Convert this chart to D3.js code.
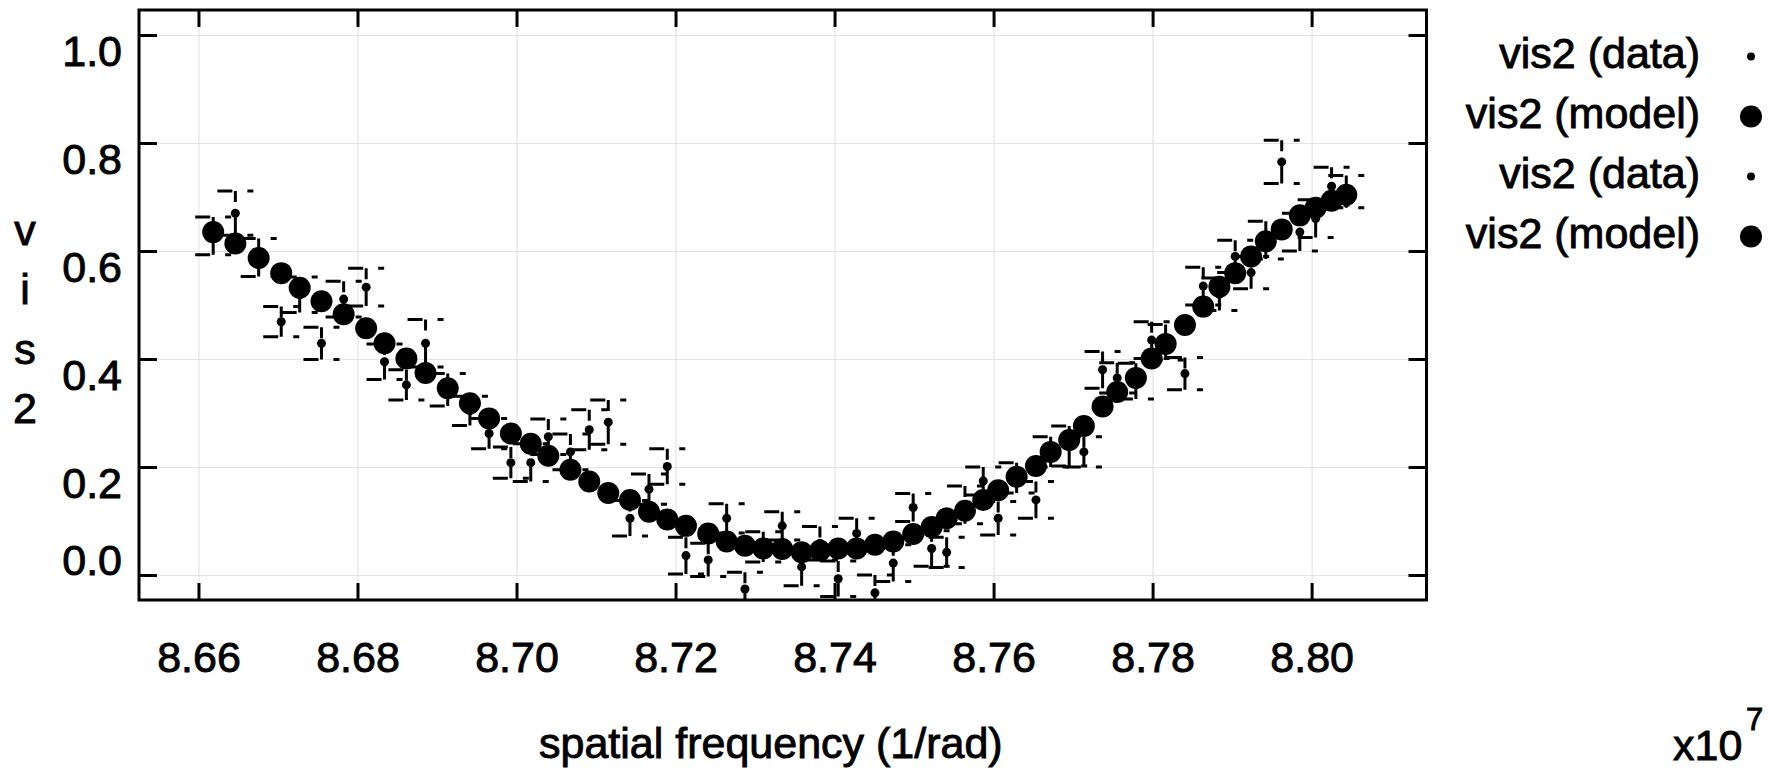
<!DOCTYPE html>
<html>
<head>
<meta charset="utf-8">
<script src="https://cdn.jsdelivr.net/npm/d3@7"></script>
<style>
  body { margin: 0; background: #fff; }
  text { font-family: "Liberation Sans", Arial, sans-serif; font-size: 43px; fill: #000;
         stroke: #000; stroke-width: 0.9px; }
</style>
</head>
<body>
<svg id="chart" width="1777" height="771"></svg>
<script>
// spatial frequency in units of 1e7 / rad
const freqA = [8.66185, 8.66757, 8.67273, 8.67826, 8.68340, 8.68856, 8.69414, 8.69929, 8.70400, 8.70915,
  8.71427, 8.71896, 8.72411, 8.72873, 8.73342, 8.73816, 8.74278, 8.74738, 8.75221, 8.75640,
  8.76058, 8.76533, 8.76951, 8.77371, 8.77790, 8.78164, 8.78637, 8.79039, 8.79424, 8.79852, 8.80251];
const vis2DataA = [0.628, 0.588, 0.519, 0.511, 0.395, 0.429, 0.304, 0.208, 0.256, 0.269,
  0.105, 0.201, 0.028, -0.026, 0.091, 0.059, 0.077, 0.022, 0.049, 0.130,
  0.105, 0.139, 0.239, 0.380, 0.359, 0.431, 0.535, 0.590, 0.620, 0.635, 0.720];
const vis2ErrA = [0.035, 0.035, 0.033, 0.033, 0.033, 0.044, 0.027, 0.029, 0.033, 0.037,
  0.033, 0.033, 0.031, 0.031, 0.026, 0.031, 0.028, 0.034, 0.033, 0.035,
  0.031, 0.034, 0.037, 0.034, 0.033, 0.033, 0.035, 0.030, 0.035, 0.035, 0.035];
const vis2ModelA = [0.635, 0.587, 0.532, 0.483, 0.429, 0.374, 0.318, 0.262, 0.221, 0.173,
  0.139, 0.103, 0.077, 0.054, 0.048, 0.045, 0.049, 0.062, 0.089, 0.119,
  0.157, 0.202, 0.250, 0.312, 0.365, 0.428, 0.497, 0.559, 0.618, 0.666, 0.693];

const freqB = [8.66464, 8.67041, 8.67547, 8.68109, 8.68615, 8.69135, 8.69655, 8.70179, 8.70678, 8.71154,
  8.71666, 8.72131, 8.72643, 8.73103, 8.73586, 8.74046, 8.74508, 8.74989, 8.75410, 8.75870,
  8.76290, 8.76718, 8.77136, 8.77555, 8.77988, 8.78407, 8.78840, 8.79239, 8.79624, 8.80051, 8.80436];
const vis2DataB = [0.670, 0.469, 0.429, 0.533, 0.352, 0.343, 0.262, 0.208, 0.228, 0.283,
  0.159, 0.036, 0.105, 0.052, 0.015, -0.007, -0.033, 0.125, 0.042, 0.174,
  0.180, 0.228, 0.228, 0.365, 0.435, 0.373, 0.520, 0.560, 0.765, 0.660, 0.710];
const vis2ErrB = [0.041, 0.028, 0.030, 0.035, 0.028, 0.030, 0.028, 0.035, 0.033, 0.041,
  0.028, 0.034, 0.027, 0.028, 0.035, 0.033, 0.033, 0.026, 0.028, 0.026,
  0.028, 0.028, 0.028, 0.028, 0.034, 0.030, 0.030, 0.030, 0.040, 0.035, 0.030];
const vis2ModelB = [0.614, 0.559, 0.507, 0.457, 0.401, 0.346, 0.290, 0.243, 0.195, 0.152,
  0.117, 0.091, 0.062, 0.049, 0.042, 0.049, 0.056, 0.076, 0.105, 0.139,
  0.182, 0.228, 0.276, 0.339, 0.401, 0.463, 0.534, 0.590, 0.640, 0.680, 0.704];

const xTicks = [8.66, 8.68, 8.70, 8.72, 8.74, 8.76, 8.78, 8.80];
const yTicks = [0.0, 0.2, 0.4, 0.6, 0.8, 1.0];
const legendLabels = ["vis2 (data)", "vis2 (model)", "vis2 (data)", "vis2 (model)"];

const plotLeft = 139, plotRight = 1426.5, plotTop = 10, plotBottom = 600;

const svg = d3.select("#chart");

const x = d3.scaleLinear().domain([8.65252, 8.81445]).range([plotLeft, plotRight]);
const y = d3.scaleLinear().domain([-0.0463, 1.0463]).range([plotBottom, plotTop]);

// grid
svg.append("g")
  .attr("transform", `translate(0,${plotBottom})`)
  .call(d3.axisBottom(x).tickValues(xTicks).tickSize(-(plotBottom - plotTop)).tickFormat(""))
  .call(g => g.select(".domain").remove())
  .selectAll("line").attr("stroke", "#e4e4e4").attr("stroke-width", 1.2);
svg.append("g")
  .attr("transform", `translate(${plotLeft},0)`)
  .call(d3.axisLeft(y).tickValues(yTicks).tickSize(-(plotRight - plotLeft)).tickFormat(""))
  .call(g => g.select(".domain").remove())
  .selectAll("line").attr("stroke", "#e4e4e4").attr("stroke-width", 1.2);

svg.append("clipPath").attr("id", "plotclip")
  .append("rect").attr("x", plotLeft).attr("y", plotTop)
  .attr("width", plotRight - plotLeft).attr("height", plotBottom - plotTop);

const plot = svg.append("g").attr("clip-path", "url(#plotclip)");

const seriesList = [
  { f: freqA, d: vis2DataA, e: vis2ErrA, m: vis2ModelA },
  { f: freqB, d: vis2DataB, e: vis2ErrB, m: vis2ModelB }
];

const capHalf = 18;

seriesList.forEach(s => {
  const pts = s.f.map((f, i) => ({ f: f, v: s.d[i], e: s.e[i] }));
  const g = plot.append("g");
  pts.forEach(p => {
    const cx = x(p.f), cy = y(p.v);
    const ePx = y(p.v - p.e) - cy;
    // caps
    [p.v + p.e, p.v - p.e].forEach(vv => {
      g.append("line")
        .attr("x1", cx - capHalf).attr("x2", cx + capHalf)
        .attr("y1", y(vv)).attr("y2", y(vv))
        .attr("stroke", "#000").attr("stroke-width", 3)
        .attr("stroke-dasharray", "15,15,6,100");
    });
    // vertical bar: short stub under the top cap, then the stem below the point
    g.append("line")
      .attr("x1", cx).attr("x2", cx)
      .attr("y1", y(p.v + p.e)).attr("y2", y(p.v - p.e))
      .attr("stroke", "#000").attr("stroke-width", 3)
      .attr("stroke-dasharray", `11,${Math.max(ePx - 11, 1)},${ePx + 2},100`);
  });
  g.selectAll("circle.data").data(pts).join("circle")
    .attr("class", "data")
    .attr("cx", d => x(d.f)).attr("cy", d => y(d.v)).attr("r", 4.5)
    .attr("fill", "#000");
});

seriesList.forEach(s => {
  plot.append("g").selectAll("circle").data(s.f.map((f, i) => ({ f: f, v: s.m[i] }))).join("circle")
    .attr("cx", d => x(d.f)).attr("cy", d => y(d.v)).attr("r", 11)
    .attr("fill", "#000");
});

// frame
svg.append("rect")
  .attr("x", plotLeft).attr("y", plotTop)
  .attr("width", plotRight - plotLeft).attr("height", plotBottom - plotTop)
  .attr("fill", "none").attr("stroke", "#000").attr("stroke-width", 3);

// axes with inside ticks
svg.append("g")
  .attr("class", "ax")
  .attr("transform", `translate(0,${plotBottom})`)
  .call(d3.axisBottom(x).tickValues(xTicks).tickSizeInner(-17).tickSizeOuter(0)
    .tickPadding(41).tickFormat(d3.format(".2f")));
svg.append("g")
  .attr("class", "ax")
  .attr("transform", `translate(0,${plotTop})`)
  .call(d3.axisTop(x).tickValues(xTicks).tickSizeInner(-17).tickSizeOuter(0).tickFormat(""));
const leftAxis = svg.append("g")
  .attr("class", "ax")
  .attr("transform", `translate(${plotLeft},0)`)
  .call(d3.axisLeft(y).tickValues(yTicks).tickSizeInner(-18).tickSizeOuter(0)
    .tickPadding(17).tickFormat(d3.format(".1f")));
svg.append("g")
  .attr("class", "ax")
  .attr("transform", `translate(${plotRight},0)`)
  .call(d3.axisRight(y).tickValues(yTicks).tickSizeInner(-18).tickSizeOuter(0).tickFormat(""));

svg.selectAll(".ax .domain").remove();
svg.selectAll(".ax .tick line").attr("stroke", "#000").attr("stroke-width", 3);
svg.selectAll(".ax .tick text").style("font-size", "43px").attr("fill", "#000")
  .style("font-family", "'Liberation Sans', Arial, sans-serif");
leftAxis.selectAll(".tick text").attr("dy", d => d === 0 ? "0" : "0.71em");

// y label, letters stacked
const yLabel = ["v", "i", "s", "2"];
svg.append("g").selectAll("text").data(yLabel).join("text")
  .attr("x", 25).attr("y", (d, i) => 245 + i * 59.3)
  .attr("text-anchor", "middle").text(d => d);

// x label
svg.append("text").attr("x", 539).attr("y", 758).text("spatial frequency (1/rad)");
svg.append("text").attr("x", 1673).attr("y", 760).text("x10");
svg.append("text").attr("x", 1746).attr("y", 730).style("font-size", "31px").text("7");

// legend
const legend = svg.append("g");
legendLabels.forEach((lab, i) => {
  const by = 68 + i * 60;
  legend.append("text").attr("x", 1700).attr("y", by).attr("text-anchor", "end").text(lab);
  legend.append("circle").attr("cx", 1751).attr("cy", by - 11.5)
    .attr("r", i % 2 === 0 ? 4 : 11).attr("fill", "#000");
});
</script>
</body>
</html>
